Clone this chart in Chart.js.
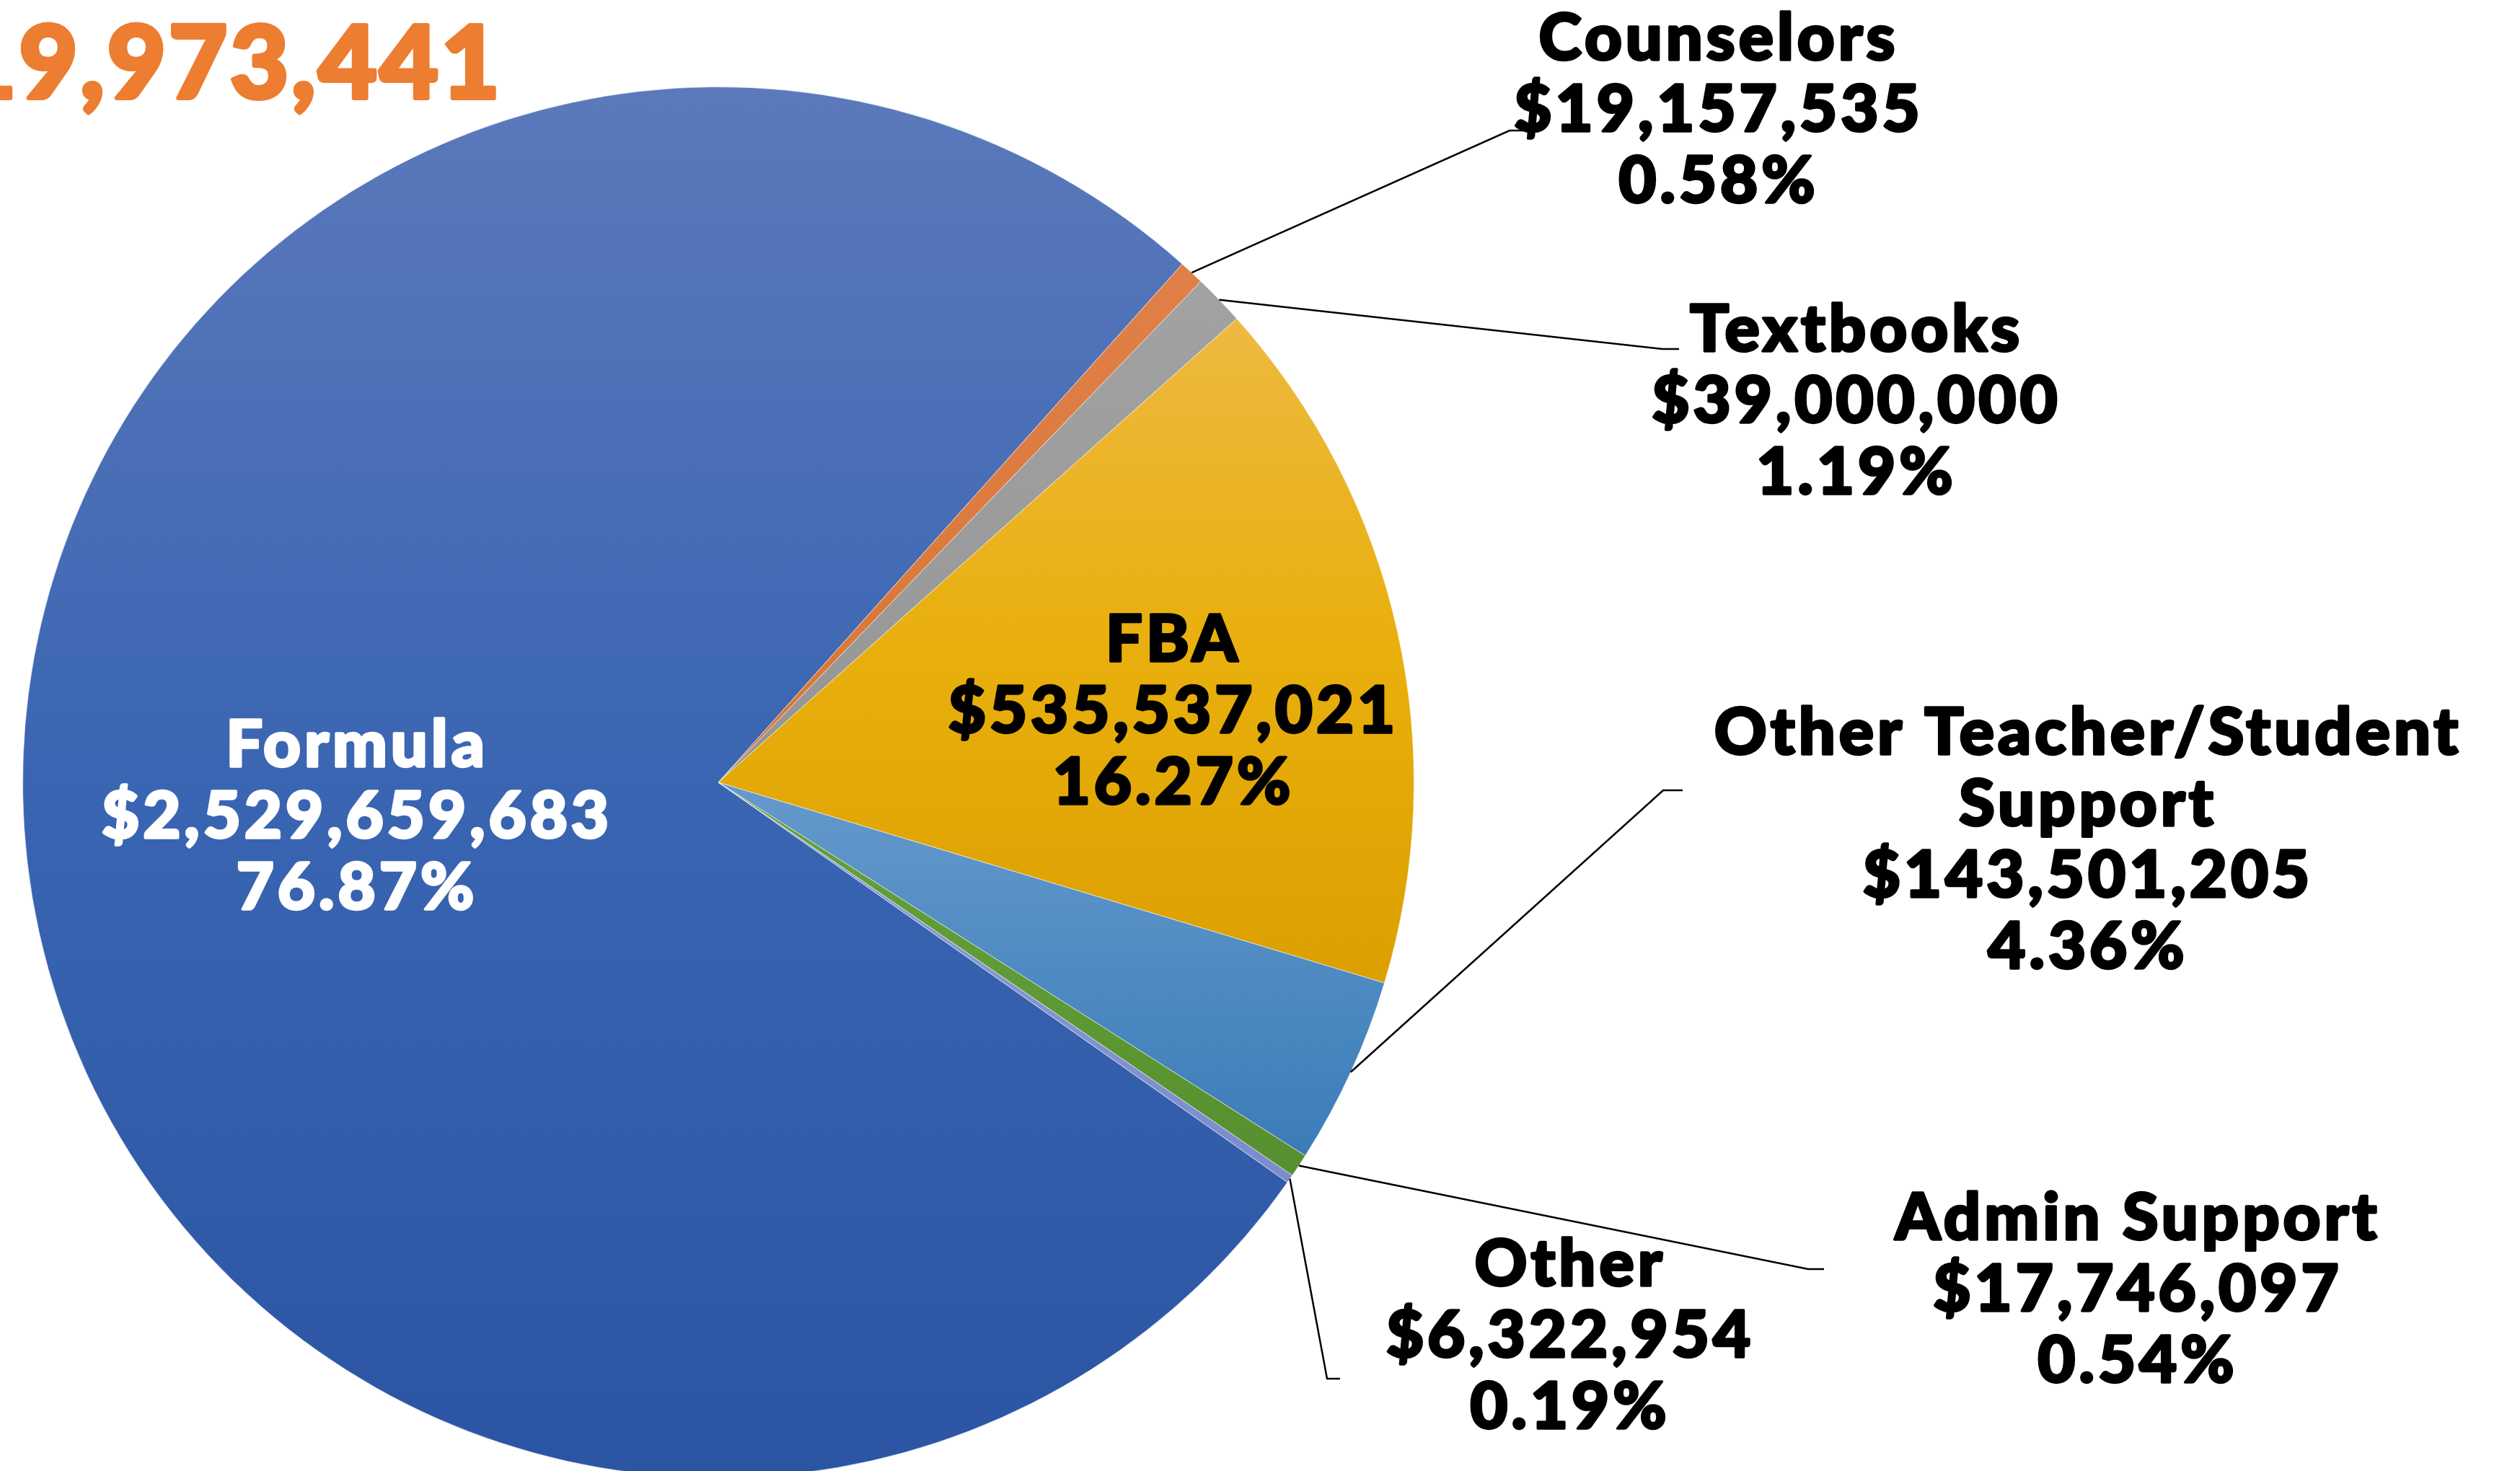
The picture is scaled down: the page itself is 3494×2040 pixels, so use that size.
<!DOCTYPE html>
<html>
<head>
<meta charset="utf-8">
<script src="https://cdn.jsdelivr.net/npm/chart.js@4.4.1/dist/chart.umd.min.js"></script>
<style>
  html, body { margin: 0; padding: 0; background: #fff; overflow: hidden; width: 3494px; height: 2040px; }
  #wrap { position: absolute; left: 0; top: 0; width: 3494px; height: 2110px; }
</style>
</head>
<body>
<div id="wrap"><canvas id="pie" width="3494" height="2110"></canvas></div>
<script>
// data, in the order the slices run clockwise (Formula first)
const CATEGORIES = ["Formula", "Counselors", "Textbooks", "FBA", "Other Teacher/Student Support", "Admin Support", "Other"];
const AMOUNTS = [2529659683, 19157535, 39000000, 535537021, 143501205, 17746097, 6322954];
const TITLE_TEXT = "19,973,441";

// slice fills: top / middle / bottom of each slice's own gradient
const FILL_TOP = ["#5b79bb", "#e08048", "#a2a2a2", "#eeb940", "#6699cc", "#64a23b", "#8da0d7"];
const FILL_MID = ["#3a65b2", "#dc7b3f", "#9c9c9c", "#e9af0c", "#4f8bc3", "#5e9a35", "#8396d0"];
const FILL_BOTTOM = ["#2b55a3", "#d87632", "#959595", "#dba000", "#3b7cb8", "#568f2e", "#7a8ccb"];
const ROTATION = 125.1;

// label layout: centre x, first baseline, leader elbow points (none = inside label)
const FONT = "900 90px Lato, 'Open Sans', sans-serif";
const LINE_H = 99;
const LABEL_LAYOUT = [
  { x: 495, y: 1063, color: "#ffffff", lines: ["Formula"] },
  { x: 2383, y: 83, lines: ["Counselors"], leader: [[2093, 181], [2115, 181]] },
  { x: 2574, y: 487, lines: ["Textbooks"], leader: [[2305, 484], [2328, 484]] },
  { x: 1627, y: 917, lines: ["FBA"] },
  { x: 2895, y: 1046, lines: ["Other Teacher/Student", "Support"], leader: [[2306, 1096], [2333, 1096]] },
  { x: 2964, y: 1719, lines: ["Admin Support"], leader: [[2507, 1760], [2529, 1760]] },
  { x: 2177, y: 1783, lines: ["Other"], leader: [[1840, 1912], [1858, 1912]] }
];

const TOTAL = AMOUNTS.reduce((a, b) => a + b, 0);

function sliceGradient(ctx) {
  const chart = ctx.chart, area = chart.chartArea, i = ctx.dataIndex;
  if (!area) return FILL_MID[i];
  const cy = (area.top + area.bottom) / 2;
  const r = Math.min(area.right - area.left, area.bottom - area.top) / 2;
  let before = 0;
  for (let k = 0; k < i; k++) before += AMOUNTS[k];
  const a0 = (ROTATION - 90) * Math.PI / 180 + before / TOTAL * 2 * Math.PI;
  const a1 = a0 + AMOUNTS[i] / TOTAL * 2 * Math.PI;
  let top = cy, bottom = cy;
  for (let s = 0; s <= 90; s++) {
    const y = cy + r * Math.sin(a0 + (a1 - a0) * s / 90);
    top = Math.min(top, y);
    bottom = Math.max(bottom, y);
  }
  const g = chart.ctx.createLinearGradient(0, top, 0, bottom);
  g.addColorStop(0, FILL_TOP[i]);
  g.addColorStop(0.5, FILL_MID[i]);
  g.addColorStop(1, FILL_BOTTOM[i]);
  return g;
}

function money(v) {
  return "$" + v.toLocaleString("en-US");
}

// fill + same-colour stroke, to get closer to the heavy display face
function heavyText(ctx, t, x, y, w) {
  ctx.lineWidth = w;
  ctx.lineJoin = "round";
  ctx.strokeStyle = ctx.fillStyle;
  ctx.strokeText(t, x, y);
  ctx.fillText(t, x, y);
}

const labelPlugin = {
  id: "sliceLabels",
  afterDatasetsDraw(chart) {
    const ctx = chart.ctx;
    const arcs = chart.getDatasetMeta(0).data;
    ctx.save();

    // leader lines from the middle of each slice's rim
    ctx.strokeStyle = "#000";
    ctx.lineWidth = 2.5;
    LABEL_LAYOUT.forEach((lab, i) => {
      if (!lab.leader) return;
      const arc = arcs[i];
      const mid = (arc.startAngle + arc.endAngle) / 2;
      ctx.beginPath();
      ctx.moveTo(arc.x + Math.cos(mid) * arc.outerRadius, arc.y + Math.sin(mid) * arc.outerRadius);
      lab.leader.forEach(p => ctx.lineTo(p[0], p[1]));
      ctx.stroke();
    });

    ctx.font = FONT;
    ctx.letterSpacing = "5px";
    ctx.textAlign = "center";
    ctx.textBaseline = "alphabetic";
    LABEL_LAYOUT.forEach((lab, i) => {
      const pct = (AMOUNTS[i] / TOTAL * 100).toFixed(2) + "%";
      const lines = lab.lines.concat([money(AMOUNTS[i]), pct]);
      ctx.fillStyle = lab.color || "#000";
      lines.forEach((t, k) => heavyText(ctx, t, lab.x, lab.y + k * LINE_H, 3.5));
    });

    // cut-off title total, top left
    ctx.font = "900 140px Lato, 'Open Sans', sans-serif";
    ctx.letterSpacing = "4px";
    ctx.textAlign = "right";
    ctx.fillStyle = "#ed7d31";
    heavyText(ctx, TITLE_TEXT, 697, 136, 6);
    ctx.restore();
  }
};

new Chart(document.getElementById("pie"), {
  type: "pie",
  data: {
    labels: CATEGORIES,
    datasets: [{
      data: AMOUNTS,
      backgroundColor: sliceGradient,
      borderColor: "rgba(255,255,255,0.55)",
      borderWidth: 1
    }]
  },
  options: {
    responsive: false,
    animation: false,
    events: [],
    rotation: ROTATION,
    layout: { padding: { left: 31, right: 1533, top: 120, bottom: 60 } },
    plugins: { legend: { display: false }, tooltip: { enabled: false }, title: { display: false } }
  },
  plugins: [labelPlugin]
});
</script>
</body>
</html>
